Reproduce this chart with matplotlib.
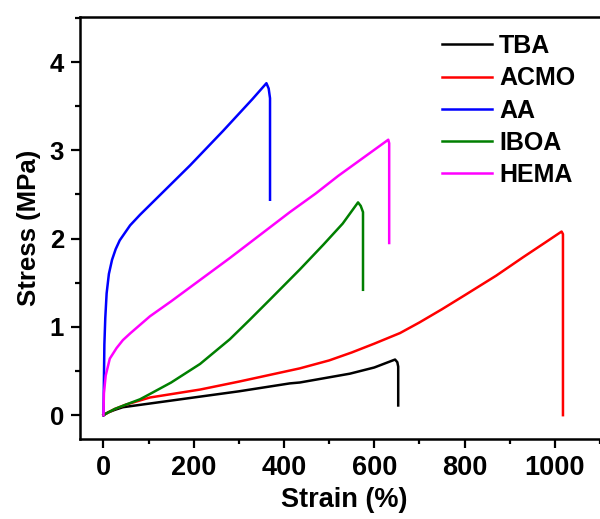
import matplotlib
matplotlib.use("Agg")
import matplotlib.pyplot as plt
from matplotlib.ticker import MultipleLocator

labels = ["TBA", "ACMO", "AA", "IBOA", "HEMA"]
colors = ["#000000", "#FF0000", "#0000FF", "#007F00", "#FF00FF"]

tba_x = [0, 10, 25, 43, 100, 214, 300, 413, 435, 546, 600, 646, 651, 653, 653]
tba_y = [0, 0.03, 0.06, 0.09, 0.13, 0.21, 0.27, 0.36, 0.37, 0.47, 0.54, 0.63, 0.60, 0.55, 0.11]

acmo_x = [0, 10, 25, 50, 103, 214, 300, 435, 500, 550, 600, 657, 700, 750, 804, 870, 930, 980, 1015, 1018, 1018]
acmo_y = [0, 0.03, 0.07, 0.12, 0.20, 0.29, 0.38, 0.53, 0.62, 0.71, 0.81, 0.93, 1.05, 1.20, 1.37, 1.58, 1.79, 1.96, 2.08, 2.05, 0.0]

aa_x = [0, 1, 2, 4, 7, 12, 19, 27, 36, 59, 81, 192, 265, 330, 361, 366, 369, 369]
aa_y = [0, 0.4, 0.8, 1.1, 1.38, 1.6, 1.76, 1.88, 1.98, 2.15, 2.27, 2.83, 3.22, 3.58, 3.76, 3.70, 3.59, 2.44]

iboa_x = [0, 10, 25, 50, 81, 103, 150, 214, 280, 324, 369, 435, 487, 530, 564, 570, 575, 575]
iboa_y = [0, 0.03, 0.07, 0.12, 0.18, 0.24, 0.37, 0.58, 0.86, 1.08, 1.31, 1.65, 1.93, 2.17, 2.41, 2.37, 2.30, 1.42]

hema_x = [0, 1, 5, 14, 29, 43, 60, 103, 150, 280, 413, 470, 520, 631, 633, 633]
hema_y = [0, 0.25, 0.45, 0.64, 0.76, 0.85, 0.93, 1.12, 1.29, 1.78, 2.30, 2.51, 2.71, 3.12, 3.08, 1.95]

series_x = [tba_x, acmo_x, aa_x, iboa_x, hema_x]
series_y = [tba_y, acmo_y, aa_y, iboa_y, hema_y]

plt.rcParams['font.family'] = ['Liberation Sans', 'DejaVu Sans']
plt.rcParams['font.weight'] = 'bold'

fig = plt.figure(figsize=(6.0, 5.19), dpi=100)
ax = fig.add_axes([80/600, 80/519, 529/600, 422/519])

for xs, ys, c, lab in zip(series_x, series_y, colors, labels):
    ax.plot(xs, ys, color=c, lw=1.8, label=lab, solid_joinstyle='round')

ax.set_xlim(-52, 1120)
ax.set_ylim(-0.27, 4.51)
ax.xaxis.set_major_locator(MultipleLocator(200))
ax.xaxis.set_minor_locator(MultipleLocator(100))
ax.yaxis.set_major_locator(MultipleLocator(1))
ax.yaxis.set_minor_locator(MultipleLocator(0.5))

for s in ax.spines.values():
    s.set_linewidth(1.8)
ax.tick_params(which='major', direction='out', length=6.5, width=1.6, pad=5)
ax.tick_params(which='minor', direction='out', length=3.5, width=1.6)
ax.tick_params(axis='x', which='major', labelsize=19.5)
ax.tick_params(axis='y', which='major', labelsize=18.5)
ax.tick_params(top=False, right=False, which='both')
for t in ax.get_xticklabels() + ax.get_yticklabels():
    t.set_fontweight('bold')

ax.set_xlabel("Strain (%)", fontsize=19.5, fontweight='bold', labelpad=4)
ax.set_ylabel("Stress (MPa)", fontsize=18.5, fontweight='bold', labelpad=6)

leg = ax.legend(loc='upper left', bbox_to_anchor=(442/600, 1-34/519), bbox_transform=fig.transFigure,
                frameon=False, fontsize=18, handlelength=2.0, handletextpad=0.28,
                labelspacing=0.33, borderpad=0, borderaxespad=0)
for t in leg.get_texts():
    t.set_fontweight('bold')

fig.savefig("out.png", dpi=100)
